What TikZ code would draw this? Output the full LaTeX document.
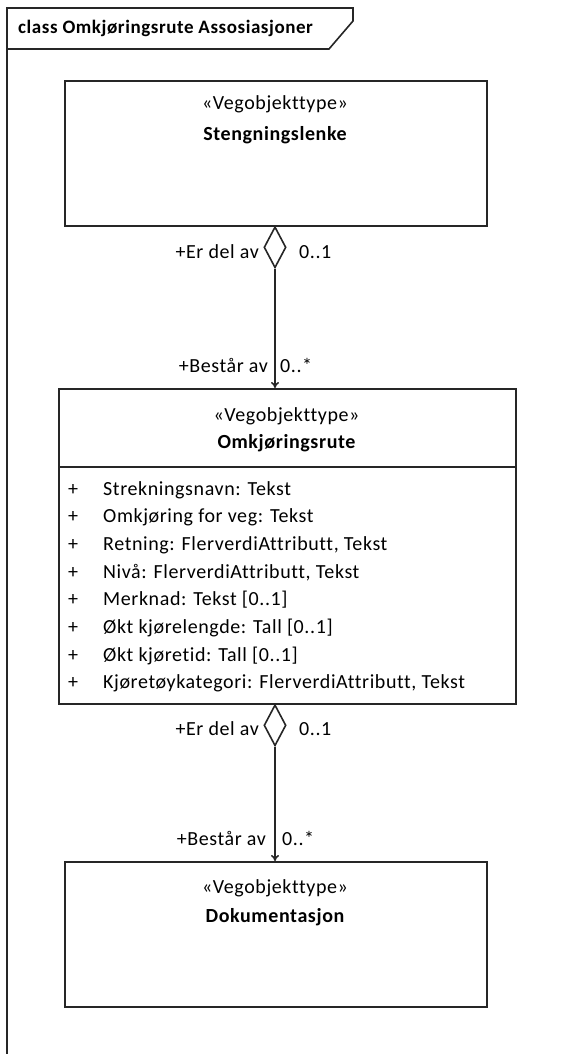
\documentclass[tikz,border=0pt]{standalone}
\usepackage{fontspec}
\setmainfont{Carlito}[LetterSpace=3,Ligatures=NoCommon]
\usetikzlibrary{shapes.geometric,arrows.meta}
\begin{document}
\begin{tikzpicture}[x=1pt,y=-1pt,
  line/.style={draw=black!85,line width=1.6pt},
  cls/.style={line,rectangle,inner sep=0pt,anchor=north west},
  txt/.style={inner sep=0pt,anchor=base,font=\fontsize{20}{24}\selectfont},
  bold/.style={font=\bfseries\fontsize{20}{24}\selectfont},
  lbl/.style={inner sep=0pt,font=\fontsize{20}{24}\selectfont},
  agg/.style={line,diamond,fill=white,inner sep=0pt,minimum width=22pt,minimum height=41pt,anchor=north},
  assoc/.style={line,-{To[length=6pt,width=8pt]}}]
\useasboundingbox (0,0) rectangle (561,1054);
% frame
\draw[line] (7,1054) -- (7,8) -- (353,8) -- (353,21) -- (329,49) -- (7,49);
\node[lbl,anchor=base west,font=\bfseries\fontsize{19}{22}\selectfont] (title) at (18,34) {class Omkjøringsrute Assosiasjoner};
% box 1
\node[cls,minimum width=422pt,minimum height=145pt] (b1) at (64,80) {};
\node[txt] (s1) at (275,110) {«Vegobjekttype»};
\node[txt,bold] (n1) at (275,140) {Stengningslenke};
% box 2
\node[cls,minimum width=457pt,minimum height=315pt] (b2) at (58,388) {};
\draw[line] (58,467) -- (515,467);
\node[txt] (s2) at (286.5,421.5) {«Vegobjekttype»};
\node[txt,bold] (n2) at (286.5,448) {Omkjøringsrute};
\foreach \i/\t in {0/{Strekningsnavn: Tekst},1/{Omkjøring for veg: Tekst},2/{Retning: FlerverdiAttributt, Tekst},3/{Nivå: FlerverdiAttributt, Tekst},4/{Merknad: Tekst [0..1]},5/{Økt kjørelengde: Tall [0..1]},6/{Økt kjøretid: Tall [0..1]},7/{Kjøretøykategori: FlerverdiAttributt, Tekst}}{
  \node[txt] (p\i) at (73,495+27.7*\i) {+};
  \node[txt,anchor=base west] (a\i) at (103,495+27.7*\i) {\t};
}
% box 3
\node[cls,minimum width=422pt,minimum height=145pt] (b3) at (64,861) {};
\node[txt] (s3) at (275,893) {«Vegobjekttype»};
\node[txt,bold] (n3) at (275,922) {Dokumentasjon};
% association 1
\node[agg] (d1) at (275,226) {};
\draw[assoc] (d1.south) -- (b2.north -| d1.south);
\node[lbl,anchor=base east] (r1) at (259,258) {+Er del av};
\node[lbl,anchor=base west] (m1) at (299,258) {0..1};
\node[lbl,anchor=base east] (r2) at (268,372) {+Består av};
\node[lbl,anchor=base west] (m2) at (280,372) {0..*};
% association 2
\node[agg] (d2) at (275,704) {};
\draw[assoc] (d2.south) -- (b3.north -| d2.south);
\node[lbl,anchor=base east] (r3) at (259,735) {+Er del av};
\node[lbl,anchor=base west] (m3) at (299,735) {0..1};
\node[lbl,anchor=base east] (r4) at (266,845) {+Består av};
\node[lbl,anchor=base west] (m4) at (282,845) {0..*};
\end{tikzpicture}
\end{document}
